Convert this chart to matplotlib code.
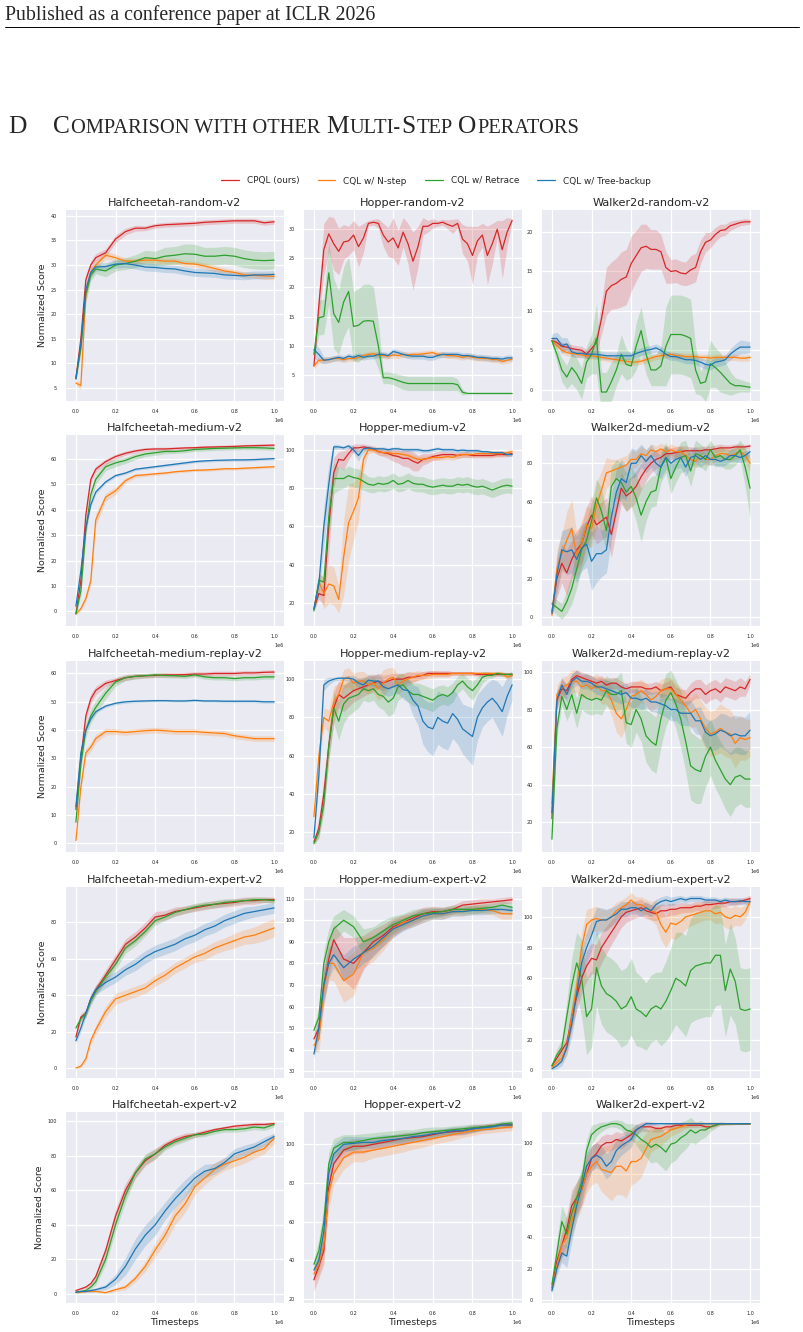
import numpy as np
import matplotlib
matplotlib.use('Agg')
import matplotlib.pyplot as plt
from matplotlib.lines import Line2D
import seaborn as sns

sns.set_style('darkgrid')
plt.rcParams['font.family'] = ['DejaVu Sans']

# ---- data -----------------------------------------------------------------
LABELS = ['CPQL (ours)', 'CQL w/ N-step', 'CQL w/ Retrace', 'CQL w/ Tree-backup']
COLORS = ['#d62728', '#ff7f0e', '#2ca02c', '#1f77b4']

# timesteps in units of 1e6
X_C = [0, 0.025, 0.05, 0.075, 0.1, 0.15, 0.2, 0.25, 0.3, 0.35, 0.4, 0.45, 0.5,
       0.55, 0.6, 0.65, 0.7, 0.75, 0.8, 0.85, 0.9, 0.95, 1.0]
X_F = list(np.round(np.arange(41) * 0.025, 3))

# order in every list: CPQL, N-step, Retrace, Tree-backup
hc_random_mean = [
    [7, 15, 27, 30, 31.5, 32.5, 35.3, 36.8, 37.5, 37.5, 38, 38.2, 38.3, 38.4, 38.5, 38.7, 38.8, 38.9, 39, 39, 39, 38.6, 38.8],
    [6, 5.5, 24, 28.5, 30, 32, 31.5, 30.8, 30.8, 31, 31, 30.8, 30.8, 30.3, 30.2, 29.8, 29.3, 28.8, 28.5, 28, 27.9, 27.8, 27.7],
    [7, 13, 24, 28, 29.2, 28.8, 30, 30.3, 30.8, 31.5, 31.3, 31.8, 32, 32.3, 32.2, 31.8, 31.8, 32, 31.8, 31.3, 31, 30.9, 31],
    [6.8, 14, 25, 28.5, 29.6, 29.7, 30.2, 30.3, 30, 29.6, 29.5, 29.3, 29.2, 28.8, 28.5, 28.4, 28.3, 28, 27.9, 27.8, 28, 28, 28.1],
]
hc_random_band = [
    [0.5, 1.5, 1, 0.8, 0.8, 0.8, 0.8, 0.7, 0.6, 0.5, 0.5, 0.5, 0.5, 0.5, 0.5, 0.5, 0.5, 0.5, 0.5, 0.5, 0.5, 0.5, 0.5],
    [0.5, 0.8, 1.5, 1, 0.8, 0.8, 0.7, 0.6, 0.6, 0.6, 0.6, 0.6, 0.6, 0.6, 0.6, 0.6, 0.6, 0.6, 0.6, 0.6, 0.6, 0.7, 0.7],
    [0.5, 1, 1.5, 1.2, 1, 1.2, 1.2, 1.2, 1.3, 1.5, 1.5, 1.8, 1.8, 2, 2, 1.8, 1.8, 1.8, 1.8, 1.8, 1.8, 1.8, 1.8],
    [0.5, 1, 1.2, 1, 0.8, 0.8, 0.8, 0.8, 0.8, 0.8, 0.8, 0.8, 0.8, 0.8, 0.8, 0.8, 0.8, 0.8, 0.8, 0.8, 0.8, 0.8, 0.8],
]

hop_random_mean = [
    [6.5, 17, 26.5, 29.2, 27.5, 26.2, 27.8, 28, 29, 27, 28.5, 31, 31.2, 31, 29, 27.8, 28.5, 26.8, 29.5, 27.5,
     24.5, 27, 30.5, 30.5, 31, 31, 31.2, 30.8, 30.5, 31, 28.3, 27.5, 25.5, 28, 29, 25.5, 27.5, 30, 26.5, 29.5, 31.5],
    [6.5, 7.5, 7.5, 7.6, 7.8, 7.8, 7.6, 7.8, 7.8, 8, 8.3, 8.5, 8.6, 8.4, 8.3, 8.2, 8.4, 8.3, 8.5, 8.4,
     8.5, 8.5, 8.6, 8.7, 8.8, 8.5, 8.5, 8.3, 8.3, 8.2, 8, 8.2, 8, 7.9, 7.8, 7.8, 7.6, 7.6, 7.3, 7.5, 7.7],
    [8.5, 14.8, 15, 22.5, 15.5, 14, 17.5, 19.3, 13.3, 13.5, 14.2, 14.3, 14.2, 10, 4.5, 4.5, 4.3, 4, 3.7, 3.5,
     3.5, 3.5, 3.5, 3.5, 3.5, 3.5, 3.5, 3.5, 3.5, 3.3, 2, 1.8, 1.8, 1.8, 1.8, 1.8, 1.8, 1.8, 1.8, 1.8, 1.8],
    [9.3, 8.5, 7.5, 7.6, 7.8, 8, 7.8, 8.2, 8, 8.3, 8, 8.2, 8.2, 8.5, 8.5, 8.3, 9, 8.8, 8.5, 8.3,
     8.2, 8.2, 8.2, 8, 8, 8.3, 8.5, 8.5, 8.5, 8.5, 8.3, 8.3, 8.2, 8, 8, 7.9, 7.8, 7.8, 7.7, 7.9, 7.9],
]
hop_random_band = [
    [0.3, 2, 4.5, 3, 4.5, 4, 3, 2.5, 2.5, 3.5, 2.5, 0.5, 0.5, 0.8, 2, 2.5, 3.5, 3, 2.5, 3.5,
     5, 3.5, 1.5, 1, 0.8, 0.5, 0.5, 0.8, 1.2, 0.8, 2.5, 3, 5, 2.5, 2, 5, 3.5, 1.5, 5, 2.5, 0.3],
    [0.5] * 41,
    [0.5, 3, 3, 5.5, 6, 5.5, 6, 6, 6, 6.3, 6.3, 6.3, 6, 4, 1, 1, 1, 1.1, 1.2, 1.2,
     1.2, 1.2, 1.2, 1.2, 1.2, 1.2, 1.2, 1.2, 1.2, 1, 0.5, 0.1, 0.1, 0.1, 0.1, 0.1, 0.1, 0.1, 0.1, 0.1, 0.1],
    [1.5, 1.2, 0.6] + [0.5] * 38,
]

wk_random_mean = [
    [6.2, 6, 5.5, 5.4, 5.2, 5.1, 5, 4.5, 5.2, 6, 9, 12.5, 13.2, 13.5, 14, 14.3, 16, 17, 18, 18.2,
     17.8, 17.8, 17.5, 15.5, 15, 15.1, 14.8, 14.7, 15.2, 15.5, 17.5, 18.7, 19, 19.7, 20.2, 20.3, 20.8, 21, 21.2, 21.3, 21.3],
    [6.2, 5.6, 5, 4.7, 4.6, 4.5, 4.4, 4.3, 4.3, 4.2, 4.1, 4, 3.9, 3.8, 3.7, 3.6, 3.5, 3.5, 3.6, 3.8,
     4, 4.2, 4.3, 4.4, 4.5, 4.3, 4.3, 4.2, 4.2, 4.2, 4.1, 4.1, 4, 4.1, 4.1, 4.1, 4.1, 4.1, 4, 4, 4.1],
    [6.2, 4.5, 2.5, 1.6, 2.8, 2, 0.8, 3.5, 4.5, 6.5, -0.3, -0.3, 1, 2.5, 4.5, 3.2, 3, 5.5, 7.5, 4.5,
     2.5, 2.5, 3, 5.5, 7, 7, 7, 6.8, 6.5, 2.5, 0.8, 1, 3.3, 2.8, 2.2, 1.5, 0.8, 0.5, 0.5, 0.4, 0.3],
    [6.5, 6.5, 5.6, 5.8, 4.8, 4.6, 4.6, 4.5, 4.5, 4.5, 4.4, 4.3, 4.3, 4.3, 4.3, 4.3, 4.3, 4.6, 4.8, 5,
     5.1, 5.3, 5, 4.5, 4.2, 4.2, 4, 3.8, 3.8, 3.7, 3.5, 3.2, 3.1, 3.5, 3.6, 3.8, 4.5, 5, 5.4, 5.4, 5.4],
]
wk_random_band = [
    [0.5, 0.5, 0.5, 0.5, 0.5, 0.5, 0.5, 0.6, 0.8, 1.2, 2, 3, 3, 3.2, 3.5, 3.5, 3.5, 3.2, 3, 2.8,
     2.5, 2.5, 2.2, 2, 1.5, 1.5, 1.5, 1.5, 1.8, 1.8, 1.5, 1.2, 1, 0.9, 0.8, 0.7, 0.6, 0.5, 0.4, 0.4, 0.3],
    [0.4] * 41,
    [0.5, 1, 1.5, 1.5, 2, 2, 2, 2, 2.5, 4.5, 2.5, 2.5, 2.5, 2, 2.5, 2, 1.5, 3, 3, 2.5,
     2, 2, 2.5, 5, 5, 5, 5, 5, 5, 3, 1.5, 2.5, 3, 2.5, 2.5, 2, 1.5, 1, 0.8, 0.7, 0.6],
    [0.6, 0.8, 1, 0.8, 0.6, 0.5, 0.5, 0.5, 0.5, 0.5, 0.5, 0.5, 0.5, 0.5, 0.5, 0.5, 0.5, 0.5, 0.5, 0.5,
     0.5, 0.5, 0.5, 0.5, 0.5, 0.5, 0.5, 0.5, 0.5, 0.5, 0.6, 0.6, 0.6, 0.6, 0.6, 0.6, 0.7, 0.8, 0.9, 0.8, 0.7],
]

hc_medium_mean = [
    [-1, 12, 38, 52, 56, 59, 61, 62.3, 63.2, 63.8, 64, 64, 64.2, 64.4, 64.5, 64.7, 64.8, 64.9, 65, 65.2, 65.3, 65.4, 65.5],
    [-1, 1, 5, 12, 36, 45, 47.5, 51.5, 53.5, 53.8, 54.2, 54.5, 55, 55.3, 55.6, 55.7, 55.9, 56.2, 56.2, 56.4, 56.6, 56.8, 57],
    [-1, 8, 32, 46, 52, 57, 58.5, 59.5, 61, 62, 62.5, 63, 63, 63.3, 63.8, 64, 64.2, 64.3, 64.4, 64.5, 64.5, 64.4, 64.2],
    [2, 16, 33, 42, 47, 51, 53.5, 54.5, 56, 56.5, 57, 57.5, 58, 58.5, 59, 59.3, 59.5, 59.6, 59.7, 59.7, 59.8, 60, 60.2],
]
hc_medium_band = [
    [0.5, 2, 2, 1.5, 1.2, 1, 1, 0.8, 0.8, 0.7, 0.7, 0.7, 0.6, 0.6, 0.6, 0.6, 0.6, 0.6, 0.6, 0.6, 0.6, 0.6, 0.6],
    [0.5, 0.8, 1, 2, 2.5, 1.5, 1.5, 1, 0.8, 0.6, 0.6, 0.5, 0.5, 0.5, 0.5, 0.5, 0.5, 0.5, 0.5, 0.5, 0.5, 0.5, 0.5],
    [0.5, 2, 3, 2.5, 2, 1.5, 1.5, 1.2, 1.2, 1, 1, 1, 0.8, 0.8, 0.8, 0.8, 0.8, 0.8, 0.8, 0.8, 0.8, 0.8, 0.8],
    [0.5, 1, 1.5, 1, 0.8, 0.6, 0.6, 0.5, 0.5, 0.5, 0.5, 0.5, 0.5, 0.5, 0.5, 0.5, 0.5, 0.5, 0.5, 0.5, 0.5, 0.5, 0.5],
]

hop_medium_mean = [
    [17, 25, 24, 60, 88, 95, 94.5, 98, 101, 101, 101.5, 101, 100.5, 99, 98.5, 98, 97, 96.5, 95.5, 95.5,
     94, 93, 95, 95.5, 96.5, 97, 97.5, 97.5, 97.5, 97, 97.5, 97.5, 97, 97, 97, 97, 97, 97.5, 97.5, 97.5, 98],
    [17, 31, 25, 30, 29, 22, 44, 62, 68, 75, 95, 100, 100, 99, 98.5, 98.5, 98, 98, 97.5, 97,
     96, 95, 95, 95.5, 96, 96, 96, 96.5, 96, 97, 97.5, 97.5, 97.5, 98, 98, 98, 98, 98, 98, 98.5, 99],
    [16, 32, 31, 65, 85, 85, 85, 86.5, 85.5, 85, 83.5, 82, 81.5, 82.5, 82, 82.5, 84, 82, 82.5, 84,
     82.5, 82, 82, 81, 80.5, 81, 81.5, 81, 81, 82, 81.5, 82, 81, 80.5, 81, 80, 79, 80, 81, 81.5, 81],
    [17, 30, 60, 82, 101.5, 101.5, 101, 102, 100, 97, 100.5, 101, 100.5, 100.5, 100.5, 100, 100.5, 100.5, 100, 100,
     100, 100, 99.5, 99.5, 100, 100.5, 100, 100, 100, 99.5, 99.8, 99.5, 99.5, 99.5, 99, 99, 98.5, 98.5, 98.5, 97.5, 97.5],
]
hop_medium_band = [
    [1, 3, 5, 15, 8, 4, 5, 3, 2, 2, 1.5, 1.5, 1.5, 1.8, 2, 2.5, 3, 3.5, 4, 4.5,
     5, 4, 3, 2.5, 2, 2, 1.8, 1.5, 1.5, 1.5, 1.5, 1.5, 1.2, 1.2, 1.2, 1.2, 1.2, 1.2, 1.2, 1.2, 1.2],
    [1, 5, 8, 10, 10, 7, 20, 20, 15, 12, 5, 2] + [1.5] * 29,
    [1, 3, 3, 10, 8, 6, 5, 5, 5, 5, 4.5] + [4] * 30,
    [1, 5, 10, 10, 1.5, 1, 1, 1, 2, 3, 1.5] + [1] * 30,
]

wk_medium_mean = [
    [3, 20, 28, 23, 30, 35, 38, 47, 53, 48, 50, 52, 43, 55, 67, 63, 65, 68, 73, 77,
     80, 82, 83, 85, 85, 85.5, 86, 86.5, 86.5, 86.5, 86.5, 87, 87, 87.5, 88, 88, 88, 88.5, 88.5, 88.5, 89],
    [1, 25, 33, 40, 46, 32, 38, 48, 46, 58, 66, 75, 76, 77, 78, 79, 82, 82, 85, 84,
     87, 86, 87.5, 86, 87, 86, 86, 84, 82, 81, 84, 82, 82, 84, 85, 85, 84, 85, 86, 84, 80],
    [7, 5, 3, 8, 15, 25, 35, 40, 50, 62, 55, 45, 68, 72, 70, 65, 68, 62, 53, 60,
     65, 66, 78, 83, 72, 78, 83, 84, 76, 85, 84, 82, 87, 83, 84, 82, 82, 84, 87, 78, 67],
    [2, 22, 35, 34, 35, 30, 36, 38, 29, 33, 33, 35, 52, 65, 72, 70, 80, 80, 84, 81,
     84, 80, 78, 83, 80, 82, 83, 78, 83, 84, 82, 84, 82, 82, 81, 82, 84, 84, 83, 84, 86],
]
wk_medium_band = [
    [2, 10, 10, 12, 10, 10, 10, 10, 10, 10, 10, 10, 12, 10, 8, 8, 8, 8, 7, 6,
     5, 5, 4, 4, 3, 3, 3, 2.5, 2, 2, 2, 2, 2, 2, 2, 1.5, 1.5, 1.5, 1.5, 1.2, 1],
    [2, 10, 10, 15, 15, 12, 12, 10, 10, 12, 10, 8, 6, 5, 5, 5, 5, 4, 4, 3,
     3, 3, 3, 3, 3, 3, 3, 3, 3, 3, 3, 3, 3, 3, 3, 3, 3, 3, 3, 3.5, 4],
    [3, 4, 4, 6, 8, 10, 10, 10, 10, 10, 12, 10, 10, 10, 10, 10, 10, 12, 14, 10,
     8, 8, 8, 8, 8, 8, 8, 8, 8, 7, 6, 6, 5, 5, 5, 5, 5, 5, 5, 10, 16],
    [2, 10, 10, 12, 12, 12, 12, 12, 15, 15, 12, 12, 12, 12, 10, 9, 8, 7, 6, 6,
     6, 6, 6, 6, 6, 5, 5, 5, 5, 4, 4, 4, 3, 3, 3, 3, 3, 3, 3, 2.5, 2],
]

hc_mr_mean = [
    [12, 30, 45, 51, 54, 56.5, 57.5, 58.5, 59, 59.2, 59.3, 59.5, 59.5, 59.6, 59.8, 59.8, 60, 60, 60, 60.2, 60.2, 60.4, 60.5],
    [1, 20, 32, 34, 37, 39.5, 39.5, 39.2, 39.5, 39.8, 40, 39.8, 39.5, 39.5, 39.5, 39.2, 39, 38.8, 38, 37.5, 37, 37, 37],
    [7.5, 28, 40, 45, 48, 53, 57, 58.5, 59, 59.2, 59.5, 59.3, 59.2, 59, 59.5, 58.8, 58.5, 58.5, 58.2, 58.5, 58.5, 58.8, 58.8],
    [13, 32, 40, 44, 46.5, 48.5, 49.5, 50, 50.2, 50.3, 50.4, 50.4, 50.3, 50.3, 50.5, 50.3, 50.3, 50.2, 50.2, 50.2, 50.2, 50, 50],
]
hc_mr_band = [
    [0.8, 2, 2, 1.8, 1.5, 1.2, 1, 1, 0.8, 0.8, 0.8, 0.8, 0.8, 0.8, 0.8, 0.8, 0.8, 0.8, 0.8, 0.8, 0.8, 0.8, 0.8],
    [0.5, 1.5, 1.5, 1.5, 1.5, 1.2, 1, 1, 1, 1, 1, 1, 1, 1, 1, 1, 1, 1, 1, 1, 1, 1, 1],
    [0.8, 2, 2.5, 2.5, 2.5, 2, 1.5, 1, 1, 0.8, 0.8, 0.8, 0.8, 0.8, 0.8, 0.8, 0.8, 0.8, 0.8, 0.8, 0.8, 0.8, 0.8],
    [0.5] * 23,
]

hop_mr_mean = [
    [15, 22, 40, 65, 85, 92, 90, 92, 94, 95, 96, 97, 98, 99, 98, 99, 100, 100, 100, 101,
     101, 101.5, 102, 103, 103, 103, 103, 103, 103, 103, 103, 103, 103, 102.5, 102.5, 102.5, 102.5, 102.5, 102.5, 102.5, 102.5],
    [28, 60, 80, 78, 88, 92, 100, 101, 98, 99, 99, 97, 98, 95, 98, 100, 101, 97, 99, 100,
     101, 102, 102, 102, 102.5, 102.5, 102.5, 102.5, 103, 103, 103, 103, 103, 103, 103, 103, 103, 103, 103, 101, 102],
    [14, 20, 35, 65, 85, 78, 87, 90, 91, 92, 95, 94, 95, 92, 91, 88, 90, 96, 97, 94,
     92, 92, 91, 90, 89, 91, 92, 91, 93, 97, 99, 96, 94, 97, 101, 102, 102, 103, 102.5, 102.5, 102.5],
    [17, 50, 97, 99, 100, 100.5, 100.5, 100.5, 100, 98, 97, 99.5, 99, 99, 96, 95, 96, 97, 94.5, 94,
     89, 86, 78, 75, 74, 80, 78, 77, 82, 79, 74, 72, 70, 80, 85, 88, 90, 87, 83, 91, 97],
]
hop_mr_band = [
    [1, 5, 8, 8, 8, 7, 7, 6.5, 6, 5.5, 5, 4.5, 4, 4, 4, 3.5, 3, 3, 3, 3,
     2.5, 2, 2, 1.5, 1.5, 1.5, 1.5, 1.5, 1, 1, 1, 1, 1, 1, 1, 1, 1, 1, 1, 1, 1],
    [1, 4, 5, 6, 8, 6, 5, 5, 5, 5, 5, 5, 5, 6, 7, 6, 5, 5, 4, 3.5,
     3, 2.5, 2, 2, 2, 1.5, 1.5, 1.5, 1, 1, 1, 1, 1, 1, 1, 1, 1, 1, 1.2, 1.5, 1.5],
    [1, 3, 5, 7, 8, 10, 10, 9, 8, 7, 6, 6, 6, 6.5, 7, 7.5, 8, 7, 6, 6,
     6, 6, 6, 6, 6, 5.5, 5, 5, 5, 4.5, 4, 4.5, 5, 4, 3, 2, 1.5, 1, 1, 1, 1],
    [1, 5, 3, 2, 1, 1, 1, 1.5, 2, 2.5, 3, 3, 3, 3.5, 4, 4, 4, 4.5, 5, 6,
     8, 10, 12, 13, 14, 14, 14, 14, 13, 13, 13, 14, 15, 12, 10, 10, 10, 12, 13, 10, 8],
]

wk_mr_mean = [
    [22, 85, 91, 90, 96, 98, 97, 96, 95, 94, 95, 93, 94, 94, 92, 91, 92, 92, 92, 91,
     91, 92, 90, 91, 92, 88, 87, 86, 89, 91, 91, 88, 90, 91, 89, 92, 91, 90, 92, 91, 96],
    [30, 88, 92, 93, 95, 95, 92, 93, 91, 93, 90, 90, 85, 78, 75, 80, 87, 88, 90, 88,
     85, 87, 90, 91, 91, 88, 85, 82, 78, 80, 75, 70, 67, 68, 70, 68, 67, 62, 65, 64, 65],
    [11, 70, 87, 80, 88, 78, 88, 86, 85, 86, 85, 90, 88, 88, 90, 73, 72, 80, 75, 66,
     63, 61, 75, 85, 89, 83, 75, 63, 50, 48, 47, 55, 60, 53, 48, 43, 40, 44, 45, 43, 43],
    [25, 85, 93, 88, 95, 97, 95, 95, 94, 92, 92, 91, 90, 89, 88, 89, 86, 86, 85, 86,
     84, 84, 83, 82, 80, 80, 78, 78, 78, 74, 74, 68, 66, 67, 69, 68, 66, 67, 66, 66, 69],
]
wk_mr_band = [
    [2, 5, 5, 4, 3, 3, 3, 3, 3, 3, 3, 3, 3, 3, 3, 3, 3, 3, 3, 3,
     3, 3, 3.5, 3.5, 4, 4, 4, 4.5, 5, 5, 5, 5, 5, 5, 5, 5, 5, 5, 5, 4, 3],
    [3, 5, 5, 5, 6, 6, 6, 6, 6, 6, 7, 7, 8, 10, 10, 9, 7, 7, 6, 6,
     6, 6, 6, 6, 6, 6, 7, 7, 8, 9, 10, 11, 12, 12, 13, 13, 13, 13, 12, 11, 10],
    [2, 5, 5, 6, 8, 8, 8, 8, 8, 8, 8, 8, 8, 9, 10, 11, 12, 12, 12, 14,
     15, 15, 15, 14, 12, 13, 15, 16, 18, 18, 17, 16, 15, 15, 15, 16, 17, 16, 15, 15, 15],
    [3, 4, 4, 4, 4, 4, 4, 4, 4, 4, 4.5, 4.5, 5, 5, 5, 5, 5, 5, 5, 5,
     5, 5.5, 5.5, 6, 6, 6, 6.5, 6.5, 7, 7, 7.5, 7.5, 8, 8.5, 9, 9.5, 10, 10, 10, 10, 10],
]

hc_me_mean = [
    [17, 28, 30, 38, 43, 51, 59.5, 68, 72, 77, 83, 84, 86, 87, 88, 89, 90, 90.5, 91, 92, 92, 92.5, 92.5],
    [0, 1, 5, 15, 21, 31, 38, 40, 42, 44, 48, 51, 55, 58, 61, 63, 66, 68, 70, 72, 73, 75, 77],
    [22, 27, 30, 37, 42, 50, 57, 66, 70, 75, 81, 83, 85.5, 87, 88.5, 89.5, 90, 91, 91.5, 92, 92.5, 92.5, 92],
    [15, 22, 30, 38, 43, 47, 50, 54, 57, 61, 64, 66, 68, 71, 73, 76, 78, 81, 83, 85, 86, 87, 88],
]
hc_me_band = [
    [1.5, 2, 2, 2.5, 2.5, 3, 3, 3, 3, 3, 3, 2.5, 2.5, 2, 2, 2, 2, 2, 2, 2, 2, 1.5, 1.5],
    [0.5, 1, 1.5, 2, 2.5, 3, 3, 3, 3, 3, 3, 3, 3, 3, 3, 3.5, 3.5, 3.5, 4, 4, 4.5, 5, 5],
    [1.5, 2, 2, 2.5, 2.5, 3, 3, 3, 3, 2.5, 2.5, 2, 2, 2, 2, 2, 2, 2, 1.5, 1.5, 1.5, 1.5, 1.5],
    [1.5, 2, 2, 2.5, 2.5, 3, 3, 3, 3.5, 3.5, 3.5, 3.5, 3.5, 3.5, 3.5, 3.5, 3.5, 3.5, 3.5, 3.5, 3, 3, 3],
]

hop_me_mean = [
    [45, 50, 70, 82, 91, 82, 80, 85, 90, 93, 97, 99, 101, 103, 104, 104, 105, 107, 107.5, 108, 108.5, 109, 109.5],
    [42, 45, 68, 80, 80, 72, 75, 85, 87, 91, 96, 99, 100, 102, 103, 103, 104, 104, 105, 105, 104.5, 103, 103],
    [49, 55, 80, 90, 96, 100, 97, 90, 92, 95, 98, 100, 102, 103, 103.5, 104, 105, 105, 105, 105.5, 106, 107, 106],
    [38, 50, 70, 80, 84, 78, 82, 85, 88, 92, 96, 98, 100, 102, 103, 103, 104, 104, 104.5, 104.5, 105, 105, 104.5],
]
hop_me_band = [
    [2, 5, 8, 8, 7, 10, 12, 8, 6, 5, 4, 3.5, 3, 3, 2.5, 2, 2, 2, 2, 2, 1.5, 1.5, 1.5],
    [3, 6, 8, 8, 8, 10, 10, 7, 6, 5, 4, 3, 3, 3, 2.5, 2.5, 2, 2, 2, 2, 2, 2.5, 2.5],
    [2, 5, 6, 6, 6, 5, 5, 6, 5, 5, 4, 3, 3, 2.5, 2.5, 2, 2, 2, 2, 2, 2, 2, 2],
    [2, 5, 8, 7, 6, 6, 6, 5, 5, 4, 4, 3, 3, 3, 2.5, 2.5, 2, 2, 2, 2, 2, 2, 2],
]

wk_me_mean = [
    [3, 8, 13, 18, 35, 48, 60, 68, 73, 72, 80, 85, 90, 95, 100, 103, 104, 105, 106, 104,
     103, 102, 104, 104, 105, 105, 106, 106, 106, 107, 107, 108, 108, 108.5, 109, 109, 110, 110, 110, 111, 112],
    [2, 5, 8, 15, 35, 55, 80, 95, 98, 99, 98, 98, 100, 104, 106, 108, 111, 108, 108, 106,
     104, 103, 95, 90, 96, 95, 97, 100, 101, 102, 103, 104, 104, 102, 103, 100, 99, 101, 100, 103, 110],
    [3, 10, 15, 35, 55, 70, 60, 35, 40, 67, 55, 50, 48, 45, 40, 42, 48, 40, 38, 35,
     40, 42, 40, 45, 52, 60, 58, 55, 65, 68, 69, 70, 70, 75, 75, 52, 66, 58, 40, 39, 40],
    [1, 3, 6, 15, 30, 50, 70, 80, 88, 97, 98, 98, 100, 102, 105, 105, 106, 106, 104, 106,
     104, 108, 110, 111, 110, 111, 112, 111, 112, 112, 112, 111, 111, 111, 110, 111, 110, 110, 110.5, 110, 110],
]
wk_me_band = [
    [1, 2, 3, 5, 8, 9, 10, 10, 10, 10, 10, 9, 8, 7.5, 7, 6.5, 6, 5.5, 5.5, 5,
     5, 4.5, 4.5, 4, 4, 3.5, 3.5, 3, 3, 3, 3, 3, 3, 3, 2.5, 2.5, 2.5, 2.5, 2, 2, 2],
    [1, 2, 3, 5, 8, 9, 10, 10, 8, 8, 7, 6.5, 6, 5.5, 5, 5, 5, 5, 5, 5.5,
     6, 8, 10, 10, 10, 9.5, 9, 8, 7, 6.5, 6, 6, 6, 6.5, 7, 7, 7, 6.5, 6, 5, 4],
    [2, 4, 5, 10, 18, 20, 25, 25, 25, 25, 25, 25, 25, 25, 25, 25, 25, 24, 23, 22,
     22, 22, 24, 26, 28, 30, 32, 33, 34, 35, 35, 35, 35, 33, 32, 30, 30, 28, 27, 27, 27],
    [1, 2, 3, 5, 8, 9, 10, 10, 10, 9, 8, 7, 6, 5.5, 5, 5, 4, 4, 4, 4,
     4, 3.5, 3, 3, 3, 2.5, 2, 2, 2, 2, 2, 2, 2, 2, 2, 2, 2, 2, 2, 2, 2],
]

hc_expert_mean = [
    [2, 3, 4, 6, 10, 25, 45, 60, 70, 77, 81, 86, 89, 91, 92, 93.5, 95, 96, 97, 97.5, 98, 98, 98.5],
    [1, 1, 1.5, 1.5, 1.5, 0.8, 2.5, 4, 9, 16, 25.5, 34, 45, 52, 62, 67, 72, 75, 77, 79, 82, 84, 90],
    [1, 1.5, 2, 4, 7, 20, 40, 57, 70, 78, 81, 85, 88, 90, 92, 92.5, 94, 95, 95, 95.5, 96.5, 96, 98],
    [1, 1.5, 1.5, 2, 2.5, 4, 8.5, 16, 26, 34, 40, 48, 55, 61, 67, 71, 72.5, 76, 81, 83, 85, 88, 91],
]
hc_expert_band = [
    [0.5, 0.5, 1, 1, 2, 3, 4, 4, 3, 3, 3, 2, 2, 2, 1.5, 1.5, 1, 1, 1, 1, 1, 1, 1],
    [0.5, 0.5, 0.5, 0.5, 0.5, 0.5, 1, 1.5, 2, 3, 4, 4.5, 5, 5, 4.5, 4, 4, 3.5, 3.5, 3.5, 3.5, 3, 3],
    [0.5, 0.5, 1, 1, 2, 3, 4, 4, 3, 3, 3, 2, 2, 2, 1.5, 1.5, 1.5, 1.5, 1.5, 1.5, 1.5, 1.5, 1.5],
    [0.5, 0.5, 0.5, 1, 1, 1.5, 3, 5, 6, 6, 6, 5, 5, 5, 4, 4, 3, 3, 3, 3, 2.5, 2.5, 2],
]

hop_expert_mean = [
    [30, 37, 45, 78, 90, 97, 99, 99, 100, 101, 102, 103, 103.5, 104, 105, 106, 106.5, 107, 108, 109, 109.5, 110, 110],
    [33, 38, 48, 75, 85, 93, 96, 96, 97, 98, 99, 100, 101, 102, 103, 104, 105, 106, 107, 107.5, 108, 108.5, 109],
    [38, 45, 60, 90, 98, 101, 101, 102, 103, 103.5, 104, 104.5, 105, 106, 106.5, 107, 107.5, 108, 108.5, 109, 109.5, 110.5, 111],
    [35, 40, 55, 85, 95, 100, 100.5, 101, 101, 102, 102.5, 103, 104, 104.5, 105.5, 106, 107, 107, 108, 108.5, 109, 110, 110],
]
hop_expert_band = [
    [6, 6, 7, 6, 5, 4, 4, 3.5, 3, 3, 3, 3, 2.5, 2.5, 2.5, 2, 2, 2, 2, 1.5, 1.5, 1.5, 1.5],
    [4, 5, 7, 8, 6, 6, 5, 5, 4, 4, 4, 4, 3.5, 3.5, 3, 3, 3, 2.5, 2.5, 2, 2, 2, 2],
    [3, 6, 8, 6, 5, 4, 4, 3.5, 3, 3, 3, 3, 2.5, 2.5, 2.5, 2, 2, 2, 2, 1.5, 1.5, 1.5, 1.5],
    [3, 5, 7, 6, 5, 4, 3.5, 3, 3, 3, 2.5, 2.5, 2.5, 2.5, 2, 2, 2, 2, 2, 1.5, 1.5, 1.5, 1.5],
]

wk_expert_mean = [
    [8, 25, 35, 45, 60, 65, 70, 80, 90, 93, 98, 100, 100, 102, 101, 103, 105, 108, 110, 110,
     110, 109, 109, 110, 110, 111, 111, 111, 111, 111, 111, 110, 110, 111, 112, 112, 112, 112, 112, 112, 112],
    [7, 22, 35, 40, 50, 62, 70, 80, 85, 88, 83, 82, 81, 85, 85, 82, 88, 88, 90, 96,
     102, 103, 104, 106, 108, 109, 110, 111, 112, 112, 112, 112, 112, 112, 112, 112, 112, 112, 112, 112, 112],
    [10, 30, 50, 42, 55, 65, 75, 95, 105, 108, 110, 111, 112, 112, 111, 108, 107, 105, 102, 100,
     97, 99, 97, 94, 99, 100, 103, 105, 108, 106, 108, 108, 110, 111, 112, 112, 112, 112, 112, 112, 112],
    [6, 20, 30, 28, 45, 60, 72, 85, 90, 92, 90, 85, 88, 95, 98, 100, 102, 108, 110, 112,
     112, 112, 112, 112, 112, 112, 112, 112, 112, 112, 112, 112, 112, 112, 112, 112, 112, 112, 112, 112, 112],
]
wk_expert_band = [
    [2, 5, 8, 9, 10, 10, 10, 9, 8, 7, 6, 5.5, 5, 5, 5, 4.5, 4, 3.5, 3, 3,
     3, 2.5, 2, 2, 2, 2, 1.5, 1.5, 1.5, 1.5, 1.2, 1.2, 1, 1, 1, 0.8, 0.8, 0.6, 0.6, 0.5, 0.5],
    [2, 5, 8, 9, 10, 11, 12, 12, 12, 13, 14, 16, 18, 18, 18, 17, 15, 13, 12, 10,
     8, 7, 6, 5, 4, 3.5, 3, 2, 1.5, 1.2, 1, 1, 1, 0.8, 0.8, 0.6, 0.6, 0.5, 0.5, 0.5, 0.5],
    [2, 8, 10, 10, 12, 10, 8, 7, 6, 4, 3, 2, 2, 2.5, 3, 4, 5, 6.5, 8, 9,
     10, 11, 12, 12, 12, 11, 10, 9, 8, 7, 6, 4.5, 3, 2, 1, 0.8, 0.6, 0.5, 0.5, 0.5, 0.5],
    [2, 4, 6, 7, 8, 9, 10, 9, 8, 8, 8, 8, 8, 7, 6, 5.5, 5, 3.5, 2, 1.5,
     1, 0.8, 0.6] + [0.5] * 18,
]

# title, x grid, means, bands, y ticks, y limits
PANELS = [
    ('Halfcheetah-random-v2', X_C, hc_random_mean, hc_random_band, range(5, 41, 5), (2.35, 41.2)),
    ('Hopper-random-v2', X_F, hop_random_mean, hop_random_band, range(5, 31, 5), (0.5, 33.3)),
    ('Walker2d-random-v2', X_F, wk_random_mean, wk_random_band, range(0, 21, 5), (-1.44, 22.8)),
    ('Halfcheetah-medium-v2', X_C, hc_medium_mean, hc_medium_band, range(0, 61, 10), (-5.8, 69.5)),
    ('Hopper-medium-v2', X_F, hop_medium_mean, hop_medium_band, range(20, 101, 20), (8.1, 107.7)),
    ('Walker2d-medium-v2', X_F, wk_medium_mean, wk_medium_band, range(0, 81, 20), (-4.6, 94.7)),
    ('Halfcheetah-medium-replay-v2', X_C, hc_mr_mean, hc_mr_band, range(0, 61, 10), (-3, 64.4)),
    ('Hopper-medium-replay-v2', X_F, hop_mr_mean, hop_mr_band, range(20, 101, 20), (9.6, 109.5)),
    ('Walker2d-medium-replay-v2', X_F, wk_mr_mean, wk_mr_band, range(20, 101, 20), (4.2, 105.8)),
    ('Halfcheetah-medium-expert-v2', X_C, hc_me_mean, hc_me_band, range(0, 81, 20), (-5.5, 99.5)),
    ('Hopper-medium-expert-v2', X_C, hop_me_mean, hop_me_band, range(30, 111, 10), (26.9, 115.4)),
    ('Walker2d-medium-expert-v2', X_F, wk_me_mean, wk_me_band, range(0, 101, 20), (-5, 119.5)),
    ('Halfcheetah-expert-v2', X_C, hc_expert_mean, hc_expert_band, range(0, 101, 20), (-5.2, 105.2)),
    ('Hopper-expert-v2', X_C, hop_expert_mean, hop_expert_band, range(20, 101, 20), (18, 116.7)),
    ('Walker2d-expert-v2', X_F, wk_expert_mean, wk_expert_band, range(0, 101, 20), (-1.7, 119.4)),
]

# ---- layout ---------------------------------------------------------------
W, H = 804, 1332
fig = plt.figure(figsize=(W / 100, H / 100), dpi=100)
fig.patch.set_facecolor('white')

col_left = [66, 304, 542]
row_top = [210, 435, 661, 887, 1112]
AW, AH = 218, 191


def px(x, y):
    return x / W, 1 - y / H


# page header
fig.text(*px(5, 20), 'Published as a conference paper at ICLR 2026',
         family='Liberation Serif', fontsize=14.3, va='baseline', ha='left')
fig.add_artist(Line2D([5 / W, 799 / W], [1 - 27 / H] * 2, color='black', lw=0.7))

# section heading in small caps
renderer = fig.canvas.get_renderer()
BIG, SMALL = 18.3, 14.7
parts = [('D', BIG, 26), ('C', BIG, 0), ('OMPARISON WITH OTHER', SMALL, 5), ('M', BIG, 0),
         ('ULTI-', SMALL, 0), ('S', BIG, 0), ('TEP', SMALL, 5), ('O', BIG, 0), ('PERATORS', SMALL, 0)]
xc = 8
for s, size, gap in parts:
    t = fig.text(*px(xc, 133), s, family='Liberation Serif', fontsize=size, va='baseline', ha='left')
    xc += t.get_window_extent(renderer).width + 0.8 + gap

for i, (title, x, means, bands, yticks, ylim) in enumerate(PANELS):
    r, c = divmod(i, 3)
    x0, y1 = px(col_left[c], row_top[r] + AH)
    ax = fig.add_axes([x0, y1, AW / W, AH / H])
    xs = np.asarray(x) * 1e6
    for m, b, col in zip(means, bands, COLORS):
        m = np.asarray(m, float)
        b = np.asarray(b, float)
        ax.plot(xs, m, color=col, lw=0.9)
        ax.fill_between(xs, m - b, m + b, color=col, alpha=0.2, linewidth=0)
    ax.set_xlim(-0.05e6, 1.05e6)
    ax.set_ylim(*ylim)
    ax.set_xticks([0, 0.2e6, 0.4e6, 0.6e6, 0.8e6, 1.0e6])
    ax.set_yticks(list(yticks))
    ax.tick_params(axis='both', labelsize=3.5, colors='.15')
    ax.tick_params(axis='x', pad=2.2)
    ax.tick_params(axis='y', pad=3)
    ax.xaxis.get_offset_text().set_fontsize(3.5)
    ax.grid(True, color='white', lw=0.9)
    for sp in ax.spines.values():
        sp.set_visible(False)
    ax.set_title(title, fontsize=8.1, pad=3, color='.15')
    if c == 0:
        ax.set_ylabel('Normalized Score', fontsize=6.8, labelpad=2.5, color='.15')
    if r == 4:
        ax.set_xlabel('Timesteps', fontsize=6.8, labelpad=1.5, color='.15')

handles = [Line2D([], [], color=col, lw=0.9) for col in COLORS]
fig.legend(handles, LABELS, loc='center', bbox_to_anchor=px(436, 181), ncol=4, frameon=False,
           fontsize=6.4, handlelength=2.0, handletextpad=0.9, columnspacing=2.05)

fig.savefig('out.png', dpi=100)
